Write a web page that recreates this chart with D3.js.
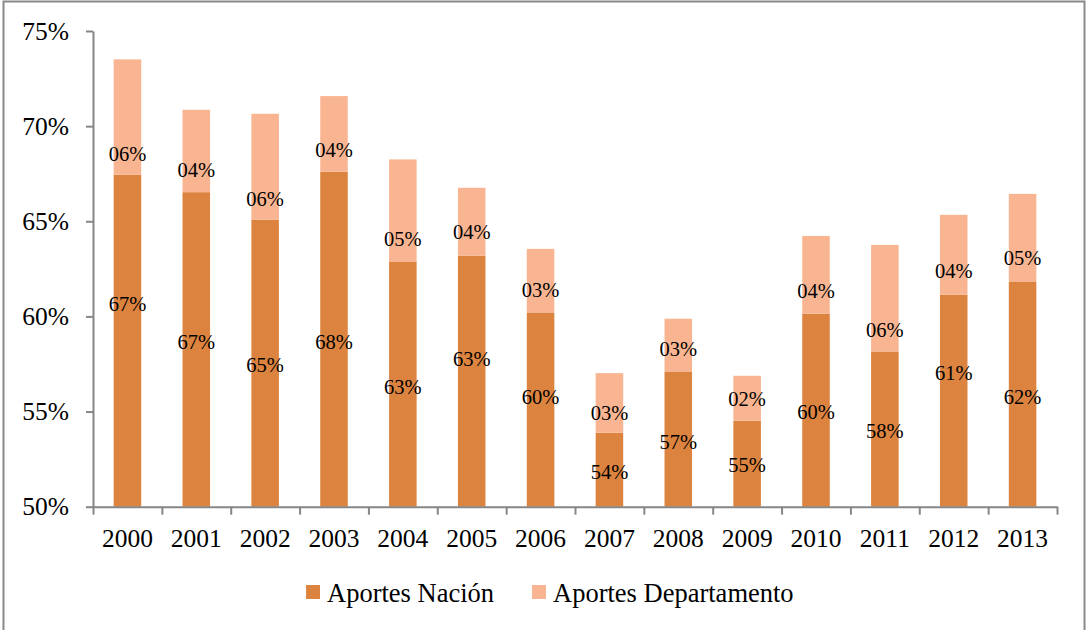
<!DOCTYPE html>
<html>
<head>
<meta charset="utf-8">
<script src="https://cdn.jsdelivr.net/npm/d3@7"></script>
<style>
  body { margin: 0; background: #fff; }
  text { font-family: "Liberation Serif", "Times New Roman", serif; fill: #000; }
</style>
</head>
<body>
<div id="chart"></div>
<script>
const years = ["2000", "2001", "2002", "2003", "2004", "2005", "2006", "2007", "2008", "2009", "2010", "2011", "2012", "2013"];
const nacion = [0.6745, 0.6653, 0.6509, 0.6760, 0.6286, 0.6319, 0.6021, 0.5389, 0.5711, 0.5452, 0.6014, 0.5816, 0.6114, 0.6184];
const departamento = [0.0606, 0.0433, 0.0556, 0.0398, 0.0539, 0.0357, 0.0334, 0.0313, 0.0277, 0.0236, 0.0409, 0.0560, 0.0420, 0.0460];
const seriesNames = ["Aportes Nación", "Aportes Departamento"];
const yTicks = [0.50, 0.55, 0.60, 0.65, 0.70, 0.75];

// where the data labels sit on the value axis (they were hand-placed in the original)
const labelAtNacion = [0.6067, 0.5868, 0.5746, 0.5868, 0.5630, 0.5776, 0.5579, 0.5184, 0.5342, 0.5219, 0.5497, 0.5398, 0.5702, 0.5579];
const labelAtDepto = [0.6856, 0.6768, 0.6619, 0.6874, 0.6407, 0.6444, 0.6141, 0.5492, 0.5828, 0.5567, 0.6137, 0.5930, 0.6237, 0.6307];

const colors = ["#DC843F", "#F9B591"];

const width = 1086, height = 630;
const plotLeft = 93, plotRight = 1057, plotTop = 31, plotBottom = 506.7;

const svg = d3.select("#chart").append("svg")
    .attr("width", width)
    .attr("height", height);

// outer frame
svg.append("rect")
    .attr("x", 3.5).attr("y", 1.5)
    .attr("width", 1081).attr("height", 640)
    .attr("fill", "none")
    .attr("stroke", "#8a8a8a")
    .attr("stroke-width", 2);

const x = d3.scaleBand().domain(years).range([plotLeft, plotRight]).paddingInner(0.6).paddingOuter(0.3);
const xEdge = d3.scaleLinear().domain([0, years.length]).range([plotLeft, plotRight]);
const y = d3.scaleLinear().domain([0.5, 0.75]).range([plotBottom, plotTop]);

const rows = years.map((yr, i) => ({ year: yr, nacion: nacion[i], depto: departamento[i] }));
const stacked = d3.stack().keys(["nacion", "depto"])(rows);

svg.append("g").selectAll("g")
    .data(stacked)
    .join("g")
    .attr("fill", (d, i) => colors[i])
    .selectAll("rect")
    .data(d => d)
    .join("rect")
    .attr("x", d => x(d.data.year))
    .attr("width", x.bandwidth())
    .attr("y", d => y(Math.max(d[1], 0.5)))
    .attr("height", d => y(Math.max(d[0], 0.5)) - y(Math.max(d[1], 0.5)));

const fmt = v => String(Math.round(v * 100)).padStart(2, "0") + "%";

// data labels
const labels = svg.append("g").attr("font-size", "20.5px").attr("text-anchor", "middle");
years.forEach((yr, i) => {
    labels.append("text")
        .attr("x", x(yr) + x.bandwidth() / 2)
        .attr("y", y(labelAtNacion[i]))
        .attr("dy", "0.35em")
        .text(fmt(nacion[i]));
    labels.append("text")
        .attr("x", x(yr) + x.bandwidth() / 2)
        .attr("y", y(labelAtDepto[i]))
        .attr("dy", "0.35em")
        .text(fmt(departamento[i]));
});

// y axis
const yAxis = svg.append("g")
    .attr("transform", `translate(${plotLeft},0)`)
    .call(d3.axisLeft(y).tickValues(yTicks).tickFormat(d3.format(".0%")).tickSize(7).tickPadding(17).tickSizeOuter(0));
yAxis.selectAll("text").attr("font-size", "25.5px").style("font-family", '"Liberation Serif", "Times New Roman", serif').attr("fill", "#000");

// x axis: tick marks on category boundaries
svg.append("g")
    .attr("transform", `translate(0,${plotBottom})`)
    .call(d3.axisBottom(xEdge).tickValues(d3.range(years.length + 1)).tickFormat("").tickSize(8).tickSizeOuter(0));

const xAxis = svg.append("g")
    .attr("transform", `translate(0,${plotBottom})`)
    .call(d3.axisBottom(x).tickSize(0).tickPadding(22));
xAxis.select(".domain").remove();
xAxis.selectAll("text").attr("font-size", "25.5px").style("font-family", '"Liberation Serif", "Times New Roman", serif').attr("fill", "#000");

svg.selectAll(".domain, .tick line").attr("stroke", "#868686").attr("stroke-width", 2);

// legend
const legendItems = [
    { name: seriesNames[0], color: colors[0], x: 306 },
    { name: seriesNames[1], color: colors[1], x: 532 }
];
const legend = svg.append("g");
legendItems.forEach(item => {
    legend.append("rect")
        .attr("x", item.x).attr("y", 585)
        .attr("width", 14).attr("height", 14)
        .attr("fill", item.color);
    legend.append("text")
        .attr("x", item.x + 21).attr("y", 601.5)
        .attr("font-size", "26.5px")
        .text(item.name);
});
</script>
</body>
</html>
